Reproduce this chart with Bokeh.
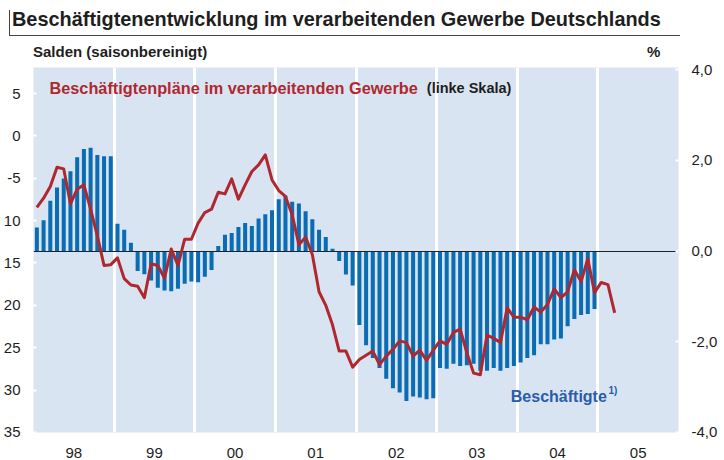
from bokeh.plotting import figure
from bokeh.models import Range1d, LinearAxis, FixedTicker, Label, Div
from bokeh.layouts import column
from bokeh.embed import file_html
from bokeh.resources import INLINE

# ---------------- data ----------------
years = ["98", "99", "00", "01", "02", "03", "04", "05"]

# Beschäftigte, Veränderung gegen Vorjahr in % (rechte Skala), Jan 1998 - Dez 2004
employees_1998 = [0.52, 0.68, 1.11, 1.40, 1.60, 1.76, 2.07, 2.25, 2.28, 2.12, 2.09, 2.09]
employees_1999 = [0.60, 0.47, 0.18, -0.44, -0.51, -0.65, -0.81, -0.87, -0.89, -0.83, -0.72, -0.67]
employees_2000 = [-0.69, -0.57, -0.42, 0.11, 0.36, 0.40, 0.53, 0.62, 0.55, 0.72, 0.81, 0.90]
employees_2001 = [1.14, 1.22, 1.09, 1.05, 0.88, 0.70, 0.47, 0.31, 0.05, -0.22, -0.52, -0.76]
employees_2002 = [-1.63, -2.08, -2.36, -2.58, -2.82, -3.03, -3.12, -3.31, -3.21, -3.23, -3.27, -3.25]
employees_2003 = [-2.58, -2.60, -2.49, -2.54, -2.52, -2.49, -2.64, -2.64, -2.58, -2.64, -2.58, -2.54]
employees_2004 = [-2.46, -2.36, -2.30, -2.06, -2.06, -1.95, -1.93, -1.66, -1.50, -1.41, -1.39, -1.28]

# Beschäftigtenpläne, Salden (linke Skala), Jan 1998 - Mär 2005
plans_1998 = [-8.45, -7.35, -5.98, -3.70, -3.90, -8.02, -6.29, -5.78, -8.65, -11.8, -15.3, -15.2]
plans_1999 = [-14.4, -16.85, -17.6, -17.75, -19.1, -15.1, -15.3, -16.8, -13.35, -15.3, -12.2, -12.2]
plans_2000 = [-10.3, -9.05, -8.65, -6.65, -6.85, -5.08, -7.47, -5.78, -4.2, -3.43, -2.25, -5.2]
plans_2001 = [-6.45, -7.15, -9.3, -12.85, -11.95, -14.0, -18.4, -20.0, -22.3, -25.4, -25.4, -27.3]
plans_2002 = [-26.4, -25.9, -25.4, -27.0, -26.0, -25.2, -24.2, -24.4, -26.0, -25.3, -26.5, -25.3]
plans_2003 = [-24.2, -24.6, -23.2, -22.8, -25.6, -28.0, -28.2, -23.5, -23.9, -24.4, -20.3, -21.4]
plans_2004 = [-21.4, -21.7, -20.2, -20.8, -19.9, -18.05, -19.1, -18.4, -15.8, -17.2, -14.5, -18.5]
plans_2005 = [-17.3, -17.55, -20.9]

left_ticks = [5, 0, -5, -10, -15, -20, -25, -30, -35]
left_tick_labels = ["5", "0", "-5", "10", "15", "20", "25", "30", "35"]
right_ticks = [4, 2, 0, -2, -4]
right_tick_labels = ["4,0", "2,0", "0,0", "-2,0", "-4,0"]

title_text = "Beschäftigtenentwicklung im verarbeitenden Gewerbe Deutschlands"
subtitle_text = "Salden (saisonbereinigt)"
unit_text = "%"

# ---------------- derived ----------------
employees = (employees_1998 + employees_1999 + employees_2000 + employees_2001
             + employees_2002 + employees_2003 + employees_2004)
plans = (plans_1998 + plans_1999 + plans_2000 + plans_2001 + plans_2002
         + plans_2003 + plans_2004 + plans_2005)
emp_x = list(range(len(employees)))
plan_x = list(range(len(plans)))
n_months = 12 * len(years)
year_centers = [12 * i + 5.5 for i in range(len(years))]
year_bounds = [12 * i - 0.5 for i in range(1, len(years))]

FONT = "Liberation Sans"
BG = "#D9E4F3"
BAR = "#0A6DB4"
RED = "#B0282F"
TXT = "#1E1E1E"

W, H = 724, 460
HEAD_H = 61
FIG_H = H - HEAD_H
TOP, BOTTOM, LEFT, RIGHT = 6, 26, 30, 46

# ---------------- header ----------------
header_html = f"""
<div style="position:relative;width:{W}px;height:{HEAD_H}px;font-family:'{FONT}';color:{TXT};">
  <div style="position:absolute;left:9px;top:10px;width:1px;height:26px;background:#444;"></div>
  <div style="position:absolute;left:9px;top:35px;width:671px;height:1px;background:#444;"></div>
  <div style="position:absolute;left:12px;top:9px;font-size:19.9px;line-height:20px;font-weight:bold;white-space:nowrap;">{title_text}</div>
  <div style="position:absolute;left:33px;top:44px;font-size:15px;line-height:16px;font-weight:bold;white-space:nowrap;">{subtitle_text}</div>
  <div style="position:absolute;left:647px;top:44px;font-size:15px;line-height:16px;font-weight:bold;white-space:nowrap;">{unit_text}</div>
</div>
"""
header = Div(text=header_html, width=W, height=HEAD_H, margin=(0, 0, 0, 0))

# ---------------- chart ----------------
p = figure(width=W, height=FIG_H, output_backend="svg", toolbar_location=None,
           x_range=Range1d(-0.5, n_months - 0.5), y_range=Range1d(-35.01, 8.07),
           min_border_left=LEFT, min_border_right=RIGHT, min_border_top=TOP,
           min_border_bottom=BOTTOM, margin=(0, 0, 0, 0))
p.extra_y_ranges = {"pct": Range1d(-4.005, 4.05)}
p.background_fill_color = BG
p.border_fill_color = "white"
p.outline_line_color = None
p.grid.visible = False

xa = p.xaxis[0]
xa.ticker = FixedTicker(ticks=year_centers)
xa.major_label_overrides = {c: y for c, y in zip(year_centers, years)}
xa.axis_line_color = None
xa.major_tick_line_color = None
xa.minor_tick_line_color = None
xa.major_label_standoff = 9

ya = p.yaxis[0]
ya.ticker = FixedTicker(ticks=left_ticks)
ya.major_label_overrides = {t: l for t, l in zip(left_ticks, left_tick_labels)}
ya.major_label_standoff = 13

ra = LinearAxis(y_range_name="pct")
ra.ticker = FixedTicker(ticks=right_ticks)
ra.major_label_overrides = {t: l for t, l in zip(right_ticks, right_tick_labels)}
ra.major_label_standoff = 13
p.add_layout(ra, "right")

for ax in (ya, ra):
    ax.axis_line_color = None
    ax.minor_tick_line_color = None
    ax.major_tick_in = 3
    ax.major_tick_out = 0
    ax.major_tick_line_color = "white"
    ax.major_tick_line_width = 2
for ax in (xa, ya, ra):
    ax.major_label_text_font = FONT
    ax.major_label_text_font_size = "15px"
    ax.major_label_text_color = TXT

p.vspan(x=year_bounds, line_color="white", line_width=3)
p.vbar(x=emp_x, top=employees, bottom=0, width=0.6, y_range_name="pct",
       fill_color=BAR, line_color=None)
p.hspan(y=[0], y_range_name="pct", line_color="#222222", line_width=1.2)
p.line(x=plan_x, y=plans, line_color=RED, line_width=3, line_join="round")

# in-frame texts, screen units relative to the frame (origin bottom-left)
FL = LEFT
FB = H - BOTTOM  # page y of frame bottom

def add_text(x, y, text, size, color=TXT):
    p.add_layout(Label(x=x - FL, y=FB - y, x_units="screen", y_units="screen",
                       text=text, text_font=FONT, text_font_size=size,
                       text_font_style="bold", text_color=color,
                       text_baseline="alphabetic", text_align="left"))

add_text(46, 89, "Beschäftigtenpläne im verarbeitenden Gewerbe", "16.3px", RED)
add_text(423.3, 89, "(linke Skala)", "14.5px")
add_text(507.3, 398.3, "Beschäftigte", "16px", "#2A5CAA")
add_text(605, 391.5, "1)", "10px", "#2A5CAA")

layout = column(header, p, spacing=0, margin=(0, 0, 0, 0))
open("out.html", "w").write(file_html(layout, INLINE))
